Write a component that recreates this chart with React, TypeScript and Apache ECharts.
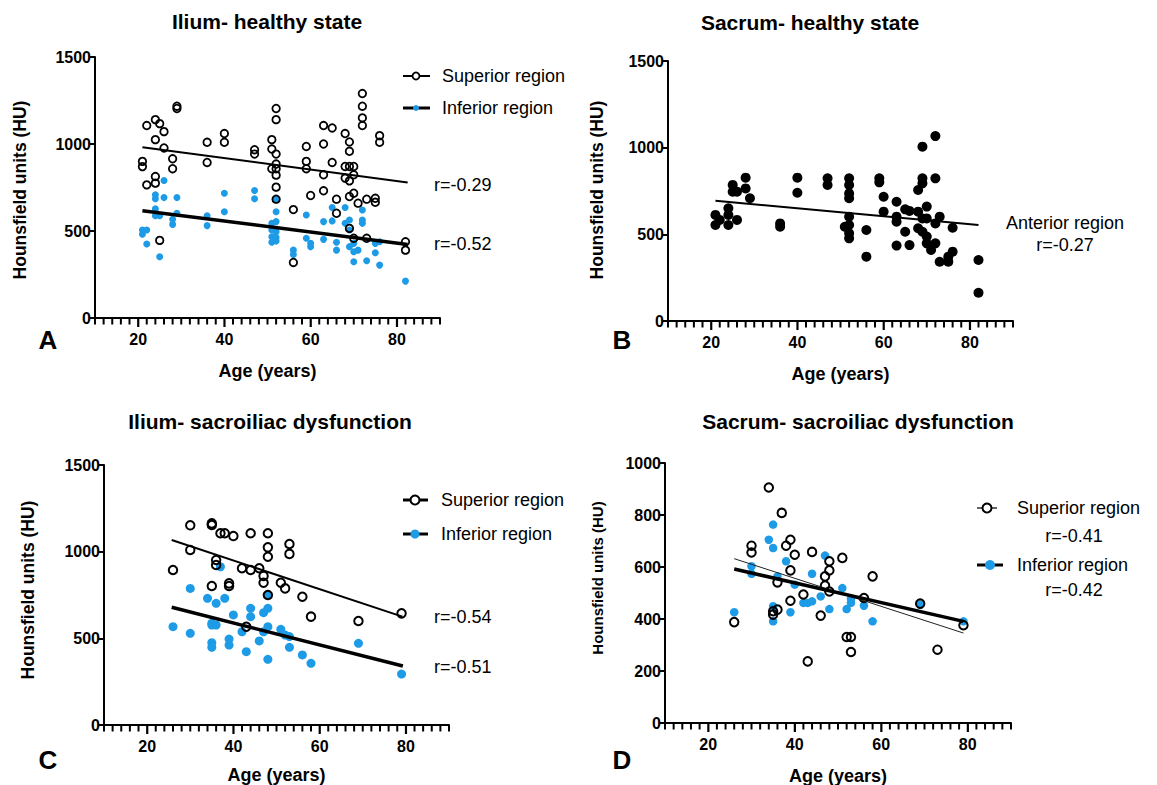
import React, { useEffect, useRef } from "react";
import * as echarts from "echarts";

// ---------- DATA ----------
const BLUE = "#1e9be6";
const FONT = "'Liberation Sans', Arial, sans-serif";

// A: Ilium - healthy state
const ilHealthySupAge = [21, 21, 22, 22, 24, 24, 24, 24, 25, 25, 26, 26, 28, 28, 29, 29, 36, 36, 40, 40, 47, 47, 51, 51, 51, 52, 52, 52, 52, 52, 52, 52, 52, 56, 56, 59, 59, 59, 60, 63, 63, 63, 63, 65, 65, 66, 66, 68, 68, 68, 69, 69, 69, 69, 69, 69, 70, 70, 70, 70, 71, 72, 72, 72, 72, 73, 73, 75, 75, 76, 76, 82, 82];
const ilHealthySupHU = [900, 870, 765, 1106, 1140, 1025, 813, 775, 1117, 446, 1071, 977, 915, 858, 1217, 1204, 1010, 894, 1060, 1010, 967, 942, 1025, 971, 858, 1204, 1140, 942, 885, 858, 821, 752, 683, 623, 319, 986, 900, 858, 704, 1106, 1000, 823, 731, 1092, 894, 683, 602, 1060, 871, 804, 1012, 958, 871, 788, 698, 515, 871, 823, 717, 458, 660, 1290, 1217, 1150, 1106, 683, 458, 688, 665, 1048, 1010, 438, 390];
const ilHealthyInfAge = [21, 21, 22, 22, 24, 24, 24, 24, 25, 25, 26, 26, 28, 28, 29, 29, 36, 36, 40, 40, 47, 47, 51, 51, 51, 51, 52, 52, 52, 52, 52, 52, 56, 56, 59, 59, 60, 60, 63, 63, 65, 65, 66, 66, 68, 68, 69, 69, 69, 70, 70, 70, 71, 72, 72, 72, 73, 75, 75, 76, 76, 82];
const ilHealthyInfHU = [506, 481, 506, 425, 708, 685, 627, 588, 352, 588, 790, 692, 567, 538, 692, 602, 588, 531, 717, 611, 733, 685, 544, 506, 467, 435, 683, 611, 554, 496, 462, 442, 390, 365, 592, 458, 429, 410, 554, 452, 635, 558, 435, 390, 635, 544, 563, 506, 410, 429, 381, 323, 390, 621, 563, 544, 329, 429, 375, 438, 304, 212];
const ilHealthySupFit = [[21, 981], [82.5, 779]];
const ilHealthyInfFit = [[21, 617], [82.5, 423]];

// B: Sacrum - healthy state
const saHealthyAntAge = [21, 21, 22, 24, 24, 24, 25, 25, 26, 26, 28, 28, 29, 36, 36, 40, 40, 47, 47, 51, 52, 52, 52, 52, 52, 52, 52, 52, 56, 56, 59, 59, 60, 60, 63, 63, 63, 63, 65, 65, 66, 66, 68, 68, 68, 69, 69, 69, 69, 69, 70, 70, 70, 70, 71, 72, 72, 72, 72, 73, 73, 75, 75, 76, 76, 82, 82];
const saHealthyAntHU = [612, 554, 583, 650, 612, 554, 785, 746, 583, 746, 827, 765, 708, 563, 544, 827, 740, 823, 785, 544, 823, 785, 736, 708, 602, 554, 506, 477, 525, 371, 823, 800, 717, 631, 688, 602, 573, 435, 644, 515, 438, 635, 631, 756, 535, 1006, 823, 794, 592, 515, 660, 487, 448, 592, 410, 1067, 823, 563, 448, 602, 342, 342, 371, 400, 538, 352, 163];
const saHealthyAntFit = [[21, 694], [82, 554]];

// C: Ilium - sacroiliac dysfunction
const ilDysSupAge = [26, 30, 30, 35, 35, 35, 36, 36, 37, 38, 39, 39, 40, 42, 43, 44, 44, 46, 47, 47, 48, 48, 48, 48, 51, 52, 53, 53, 56, 58, 69, 79];
const ilDysSupHU = [894, 1152, 1010, 1163, 1154, 802, 952, 923, 1106, 1106, 817, 802, 1090, 904, 567, 1106, 894, 904, 860, 821, 1106, 1025, 971, 750, 821, 788, 1044, 987, 740, 625, 600, 644];
const ilDysInfAge = [26, 30, 30, 34, 35, 35, 35, 35, 36, 36, 37, 38, 39, 39, 40, 42, 43, 44, 44, 46, 47, 47, 48, 48, 48, 48, 51, 52, 53, 53, 56, 58, 69, 79];
const ilDysInfHU = [567, 788, 529, 731, 587, 577, 475, 448, 577, 702, 913, 731, 496, 461, 635, 538, 423, 673, 625, 485, 648, 538, 673, 567, 750, 379, 552, 519, 448, 510, 404, 356, 471, 294];
const ilDysSupFit = [[25.7, 1067], [79.2, 625]];
const ilDysInfFit = [[25.7, 679], [79.3, 340]];

// D: Sacrum - sacroiliac dysfunction
const saDysSupAge = [26, 30, 30, 34, 35, 35, 36, 36, 37, 38, 39, 39, 39, 40, 42, 43, 44, 46, 47, 47, 48, 48, 48, 51, 52, 53, 53, 56, 58, 69, 73, 79];
const saDysSupHU = [388, 682, 656, 906, 417, 430, 436, 541, 808, 682, 705, 587, 470, 647, 494, 237, 658, 413, 564, 529, 622, 587, 506, 635, 331, 331, 273, 481, 564, 459, 282, 376];
const saDysInfAge = [26, 30, 30, 34, 35, 35, 35, 35, 36, 38, 39, 40, 42, 43, 44, 44, 46, 47, 48, 51, 52, 53, 53, 56, 58, 69, 79];
const saDysInfHU = [426, 603, 574, 705, 763, 673, 449, 391, 564, 622, 426, 532, 462, 462, 574, 468, 487, 644, 438, 519, 438, 462, 477, 451, 391, 455, 391];
const saDysSupFit = [[26, 632], [79, 346]];
const saDysInfFit = [[26, 592], [79, 391]];

// x-axis tick positions (years)
const ageTicks = [20, 40, 60, 80];
const ageMinorTicks = [10, 12, 14, 16, 18, 20, 22, 24, 26, 28, 30, 32, 34, 36, 38, 40, 42, 44, 46, 48, 50, 52, 54, 56, 58, 60, 62, 64, 66, 68, 70, 72, 74, 76, 78, 80, 82, 84, 86, 88, 90];
const titles = ["Ilium- healthy state", "Sacrum- healthy state", "Ilium- sacroiliac dysfunction", "Sacrum- sacroiliac dysfunction"];
const panelLetters = ["A", "B", "C", "D"];
const yMax = [1500, 1500, 1500, 1000];
const yStep = [500, 500, 500, 200];
const yName = "Hounsfield units (HU)";
const xName = "Age (years)";

const zip = (a: number[], b: number[]) => a.map((v, i) => [v, b[i]]);

// ---------- LAYOUT ----------
const grids = [
  { left: 95, top: 57, width: 345, height: 261 },
  { left: 668, top: 61, width: 345, height: 260 },
  { left: 104, top: 465, width: 345, height: 260 },
  { left: 665, top: 463, width: 346, height: 260 },
];
const xNameGap = [44, 44, 41, 44];
const yNamePos = [
  { x: 20, y: 190, size: 17.5 },
  { x: 597, y: 190, size: 17.5 },
  { x: 28, y: 590, size: 17.5 },
  { x: 597, y: 578, size: 15 },
];

function buildOption() {
  const grid = grids.map((g) => ({ ...g, outerBoundsMode: "none", containLabel: false }));
  const xAxis: any[] = [];
  const yAxis: any[] = [];
  grids.forEach((_, i) => {
    xAxis.push({
      type: "value",
      gridIndex: i,
      min: 10,
      max: 90,
      position: "bottom",
      name: xName,
      nameLocation: "middle",
      nameGap: xNameGap[i],
      nameTextStyle: { fontFamily: FONT, fontWeight: "bold", fontSize: 18, color: "#000" },
      axisLine: { show: true, onZero: false, lineStyle: { color: "#000", width: 2 } },
      axisTick: { show: false },
      axisLabel: { show: true, customValues: ageTicks, margin: 13, fontFamily: FONT, fontWeight: "bold", fontSize: 16, color: "#000" },
      splitLine: { show: false },
    });
    yAxis.push({
      type: "value",
      gridIndex: i,
      min: 0,
      max: yMax[i],
      interval: yStep[i],
      axisLine: { show: true, onZero: false, lineStyle: { color: "#000", width: 2 } },
      axisTick: { show: true, length: 6, lineStyle: { color: "#000", width: 2 } },
      axisLabel: {
        margin: 4,
        fontFamily: FONT,
        fontWeight: "bold",
        fontSize: 16,
        color: "#000",
        formatter: (v: number) => String(v),
      },
      splitLine: { show: false },
    });
  });

  // x ticks (major at 20/40/60/80, minor every 2 years) placed through the axis scale
  const xTicks = (i: number) => ({
    type: "custom",
    xAxisIndex: i,
    yAxisIndex: i,
    data: ageMinorTicks.map((a) => [a, 0]),
    clip: false,
    silent: true,
    z: 5,
    renderItem: (_params: any, api: any) => {
      const v = Number(api.value(0));
      const major = ageTicks.indexOf(v) >= 0;
      const p = api.coord([v, 0]);
      return {
        type: "rect",
        shape: { x: p[0] - 1, y: p[1], width: major ? 2.2 : 2, height: major ? 9 : 6.5 },
        style: { fill: "#000" },
      };
    },
  });

  const openCircle = (i: number, data: number[][], size: number, bw: number) => ({
    type: "scatter",
    xAxisIndex: i,
    yAxisIndex: i,
    data,
    symbol: "circle",
    symbolSize: size,
    itemStyle: { color: "rgba(255,255,255,0)", borderColor: "#000", borderWidth: bw, opacity: 1 },
    z: 3,
    silent: true,
  });
  const filled = (i: number, data: number[][], size: number, color: string) => ({
    type: "scatter",
    xAxisIndex: i,
    yAxisIndex: i,
    data,
    symbol: "circle",
    symbolSize: size,
    itemStyle: { color, opacity: 1 },
    z: 2,
    silent: true,
  });
  const fit = (i: number, data: number[][], width: number, color = "#000") => ({
    type: "line",
    xAxisIndex: i,
    yAxisIndex: i,
    data,
    symbol: "none",
    lineStyle: { color, width },
    z: 4,
    silent: true,
  });

  const series = [
    filled(0, zip(ilHealthyInfAge, ilHealthyInfHU), 7, BLUE),
    openCircle(0, zip(ilHealthySupAge, ilHealthySupHU), 7.5, 1.8),
    fit(0, ilHealthySupFit, 2),
    fit(0, ilHealthyInfFit, 3.5),
    filled(1, zip(saHealthyAntAge, saHealthyAntHU), 10, "#000"),
    fit(1, saHealthyAntFit, 2),
    filled(2, zip(ilDysInfAge, ilDysInfHU), 9, BLUE),
    openCircle(2, zip(ilDysSupAge, ilDysSupHU), 8.5, 2),
    fit(2, ilDysSupFit, 2),
    fit(2, ilDysInfFit, 3.5),
    filled(3, zip(saDysInfAge, saDysInfHU), 8.5, BLUE),
    openCircle(3, zip(saDysSupAge, saDysSupHU), 8.5, 2),
    fit(3, saDysSupFit, 1, "#222"),
    fit(3, saDysInfFit, 3.5),
    xTicks(0),
    xTicks(1),
    xTicks(2),
    xTicks(3),
  ];

  const txt = (x: number, y: number, text: string, size: number, bold = false, align = "left", rotation = 0) => ({
    type: "text",
    x,
    y,
    rotation,
    silent: true,
    style: {
      text,
      fill: "#000",
      font: `${bold ? "bold " : ""}${size}px ${FONT}`,
      align,
      verticalAlign: "middle",
      textAlign: align,
      textVerticalAlign: "middle",
    },
  });
  const seg = (x1: number, x2: number, y: number, w: number, stroke = "#000") => ({
    type: "line",
    silent: true,
    shape: { x1, y1: y, x2, y2: y },
    style: { stroke, lineWidth: w },
  });
  const dot = (cx: number, cy: number, r: number, fill: string, stroke?: string, lw = 0) => ({
    type: "circle",
    silent: true,
    shape: { cx, cy, r },
    style: { fill, stroke: stroke || fill, lineWidth: lw },
  });

  const graphic: any[] = [
    txt(267, 21, titles[0], 21, true, "center"),
    txt(810, 22, titles[1], 21, true, "center"),
    txt(270, 421, titles[2], 21, true, "center"),
    txt(858, 421, titles[3], 21, true, "center"),
    txt(48, 340, panelLetters[0], 26, true, "center"),
    txt(622, 340, panelLetters[1], 26, true, "center"),
    txt(48, 760, panelLetters[2], 26, true, "center"),
    txt(622, 760, panelLetters[3], 26, true, "center"),
    ...yNamePos.map((p) => txt(p.x, p.y, yName, p.size, true, "center", Math.PI / 2)),
    // A legend
    seg(403, 430, 76, 2),
    dot(416, 76, 3.5, "#fff", "#000", 1.8),
    txt(442, 76, "Superior region", 18),
    seg(403, 430, 108, 3),
    dot(416, 108, 3, BLUE),
    txt(442, 108, "Inferior region", 18),
    txt(434, 185, "r=-0.29", 18),
    txt(434, 244, "r=-0.52", 18),
    // B labels
    txt(1065, 223, "Anterior region", 18, false, "center"),
    txt(1065, 245, "r=-0.27", 18, false, "center"),
    // C legend
    seg(403, 428, 500, 3),
    dot(415, 500, 4.5, "#fff", "#000", 2),
    txt(441, 500, "Superior region", 18),
    seg(403, 428, 534, 3),
    dot(415, 534, 4.5, BLUE),
    txt(441, 534, "Inferior region", 18),
    txt(434, 617, "r=-0.54", 18),
    txt(434, 667, "r=-0.51", 18),
    // D legend
    seg(977, 997, 508, 1.2),
    dot(987, 508, 4.5, "#fff", "#000", 2),
    txt(1017, 508, "Superior region", 18),
    txt(1074, 536, "r=-0.41", 18, false, "center"),
    seg(977, 1003, 565, 3),
    dot(990, 565, 5, BLUE),
    txt(1017, 565, "Inferior region", 18),
    txt(1074, 590, "r=-0.42", 18, false, "center"),
  ];

  return {
    animation: false,
    backgroundColor: "#fff",
    textStyle: { fontFamily: FONT },
    grid,
    xAxis,
    yAxis,
    series,
    graphic,
  };
}

export default function App() {
  const ref = useRef<HTMLDivElement>(null);
  useEffect(() => {
    if (!ref.current) return;
    const chart = echarts.init(ref.current, undefined, { renderer: "svg" });
    chart.setOption(buildOption() as any);
    return () => chart.dispose();
  }, []);
  return (
    <div
      ref={ref}
      style={{ position: "absolute", left: 0, top: 0, width: 1157, height: 785, background: "#fff" }}
    />
  );
}
